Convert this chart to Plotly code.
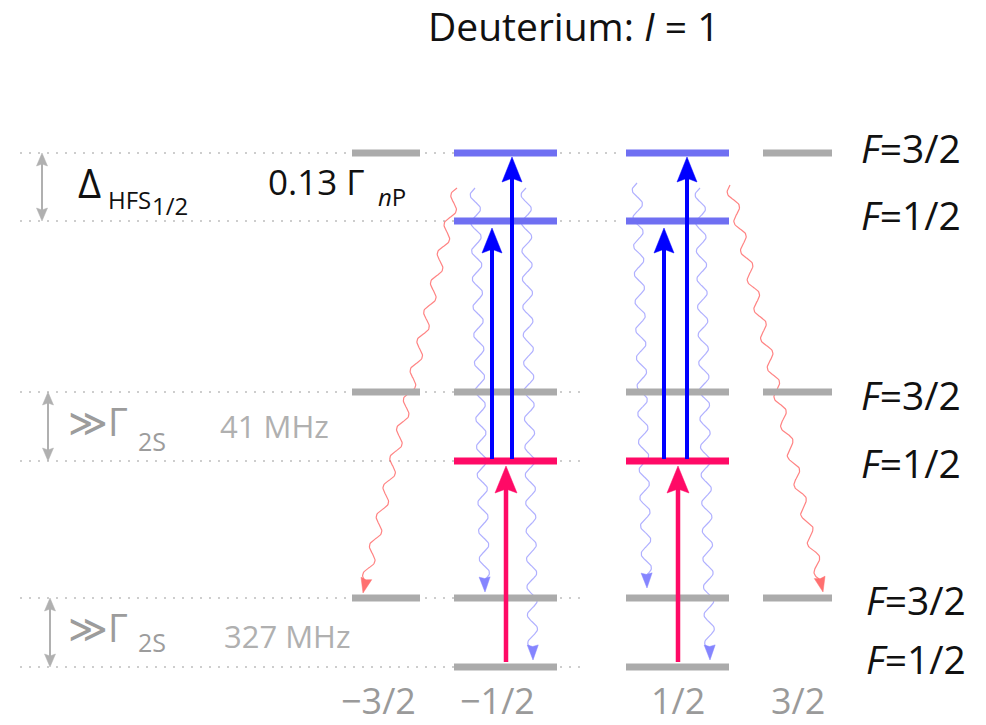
import numpy as np
import plotly.graph_objects as go

# ---------------- data ----------------
title_text = "Deuterium: <i>I</i> = 1"
mF_labels = ["\u22123/2", "\u22121/2", "1/2", "3/2"]
col_left = [352, 454, 626, 763]
col_right = [420, 557, 729, 832]

level_F = ["<i>F</i>=3/2", "<i>F</i>=1/2", "<i>F</i>=3/2", "<i>F</i>=1/2", "<i>F</i>=3/2", "<i>F</i>=1/2"]
level_y = [153, 221, 392, 461, 598, 667]
level_label_x = [911, 911, 911, 911, 916, 916]
level_label_y = [147, 214, 394, 462, 599, 658]

# which (level, column) sublevels exist, and their role
bar_level = [0, 0, 0, 0, 1, 1, 2, 2, 2, 2, 3, 3, 4, 4, 4, 4, 5, 5]
bar_col   = [0, 1, 2, 3, 1, 2, 0, 1, 2, 3, 1, 2, 0, 1, 2, 3, 1, 2]
bar_kind  = ["g", "b", "b", "g", "b", "b", "g", "g", "g", "g", "m", "m", "g", "g", "g", "g", "g", "g"]

# laser excitations: (x, from y, to y, kind)
exc_x = [506, 678, 492, 512, 664, 687]
exc_y0 = [662, 662, 459, 459, 459, 459]
exc_y1 = [466, 466, 228, 157, 228, 157]
exc_kind = ["m", "m", "b", "b", "b", "b"]

# spontaneous decays (wavy): start, end, kind
dec_x0 = [457, 730, 475, 526, 637, 700]
dec_y0 = [188, 185, 188, 188, 183, 188]
dec_x1 = [363, 823, 485, 533, 647, 710]
dec_y1 = [593, 592, 592, 660, 588, 660]
dec_kind = ["r", "r", "b", "b", "b", "b"]

# splitting annotations
split_x = [42, 48, 50]
split_top = [153, 392, 598]
split_bot = [221, 461, 667]

FONT = "Open Sans"
C = {"g": "#ababab", "b": "#6f6ff2", "m": "#ff0a66", "B": "#0000ff",
     "r": "rgba(255,90,90,0.75)", "wb": "rgba(80,80,255,0.45)",
     "rh": "#ff7070", "bh": "#8585ff"}

fig = go.Figure()


def add_line(xs, ys, color, width, dash=None):
    fig.add_trace(go.Scatter(x=xs, y=ys, mode="lines", hoverinfo="skip",
                             line=dict(color=color, width=width, dash=dash)))


def add_poly(xs, ys, color):
    fig.add_trace(go.Scatter(x=xs, y=ys, mode="lines", fill="toself", fillcolor=color,
                             hoverinfo="skip", line=dict(color=color, width=0.5)))


def head(x1, y1, ux, uy, hl, hw, color, notch=0.15):
    px, py = -uy, ux
    bx, by = x1 - ux * hl, y1 - uy * hl
    nx, ny = x1 - ux * hl * (1 - notch), y1 - uy * hl * (1 - notch)
    add_poly([x1, bx + px * hw / 2, nx, bx - px * hw / 2, x1],
             [y1, by + py * hw / 2, ny, by - py * hw / 2, y1], color)


def straight_arrow(x0, y0, x1, y1, color, width, hl, hw, both=False):
    L = np.hypot(x1 - x0, y1 - y0)
    ux, uy = (x1 - x0) / L, (y1 - y0) / L
    sx, sy = (x0 + ux * hl * 0.8, y0 + uy * hl * 0.8) if both else (x0, y0)
    add_line([sx, x1 - ux * hl * 0.8], [sy, y1 - uy * hl * 0.8], color, width)
    head(x1, y1, ux, uy, hl, hw, color)
    if both:
        head(x0, y0, -ux, -uy, hl, hw, color)


def wavy_arrow(x0, y0, x1, y1, color, hcolor, amp=4.5, period=28, hl=15, hw=11):
    L = np.hypot(x1 - x0, y1 - y0)
    ux, uy = (x1 - x0) / L, (y1 - y0) / L
    px, py = -uy, ux
    s = np.linspace(0, L - hl * 0.8, 400)
    w = amp * np.sin(2 * np.pi * s / period)
    add_line(x0 + ux * s + px * w, y0 + uy * s + py * w, color, 1.2)
    head(x1, y1, ux, uy, hl, hw, hcolor, notch=0.1)


# dotted guide lines
for i, y in enumerate(level_y):
    xe = 622 if i < 2 else 580
    add_line([20, xe], [y, y], "#bdbdbd", 1.6, dash="2px,7px")

# wavy decays
for x0, y0, x1, y1, k in zip(dec_x0, dec_y0, dec_x1, dec_y1, dec_kind):
    if k == "r":
        wavy_arrow(x0, y0, x1, y1, C["r"], C["rh"], amp=4.5, period=30)
    else:
        wavy_arrow(x0, y0, x1, y1, C["wb"], C["bh"], amp=5, period=28)

# level bars
for li, ci, k in zip(bar_level, bar_col, bar_kind):
    add_line([col_left[ci], col_right[ci]], [level_y[li], level_y[li]], C[k], 7)

# excitation arrows
for x, y0, y1, k in zip(exc_x, exc_y0, exc_y1, exc_kind):
    if k == "m":
        straight_arrow(x, y0, x, y1, C["m"], 4.5, 27, 22)
    else:
        straight_arrow(x, y0, x, y1, C["B"], 4, 25, 20)

# splitting double arrows
for x, yt, yb in zip(split_x, split_top, split_bot):
    straight_arrow(x, yt, x, yb, "#b0b0b0", 2, 13, 11, both=True)

ann = []


def txt(x, y, s, size, color="#111111", anchor="center"):
    ann.append(dict(x=x, y=y, xref="x", yref="y", text=s, showarrow=False,
                    xanchor=anchor, yanchor="middle",
                    font=dict(family=FONT, size=size, color=color)))


txt(574, 25, title_text, 39)
for x0, x1, lab in zip(col_left, col_right, mF_labels):
    txt((x0 + x1) / 2 + (-8 if lab.startswith("\u2212") else 0), 700, lab, 36, "#9a9a9a")
for x, y, s in zip(level_label_x, level_label_y, level_F):
    txt(x, y, s, 39)

# left-hand annotations
txt(76, 182, "\u0394", 40, anchor="left")
txt(106, 199, "HFS", 24, anchor="left")
txt(150, 205, "1/2", 24, anchor="left")
txt(266, 181, "0.13 \u0393", 35, anchor="left")
txt(376, 196, "<i>n</i>P", 24, anchor="left")

for yg, ys, ym, mhz, xm in [(421, 441, 426, "41 MHz", 218), (627, 642, 636, "327 MHz", 222)]:
    txt(66, yg, "\u226b\u0393", 38, "#9c9c9c", anchor="left")
    txt(136, ys, "2S", 25, "#9c9c9c", anchor="left")
    txt(xm, ym, mhz, 31, "#b0b0b0", anchor="left")

fig.update_layout(
    width=986, height=725, margin=dict(l=0, r=0, t=0, b=0),
    paper_bgcolor="white", plot_bgcolor="white", showlegend=False,
    xaxis=dict(range=[0, 986], visible=False, fixedrange=True),
    yaxis=dict(range=[725, 0], visible=False, fixedrange=True),
    annotations=ann,
)
fig.write_html("out.html", config={"displayModeBar": False},
               post_script="document.body.style.margin='0';document.body.style.overflow='hidden';")
